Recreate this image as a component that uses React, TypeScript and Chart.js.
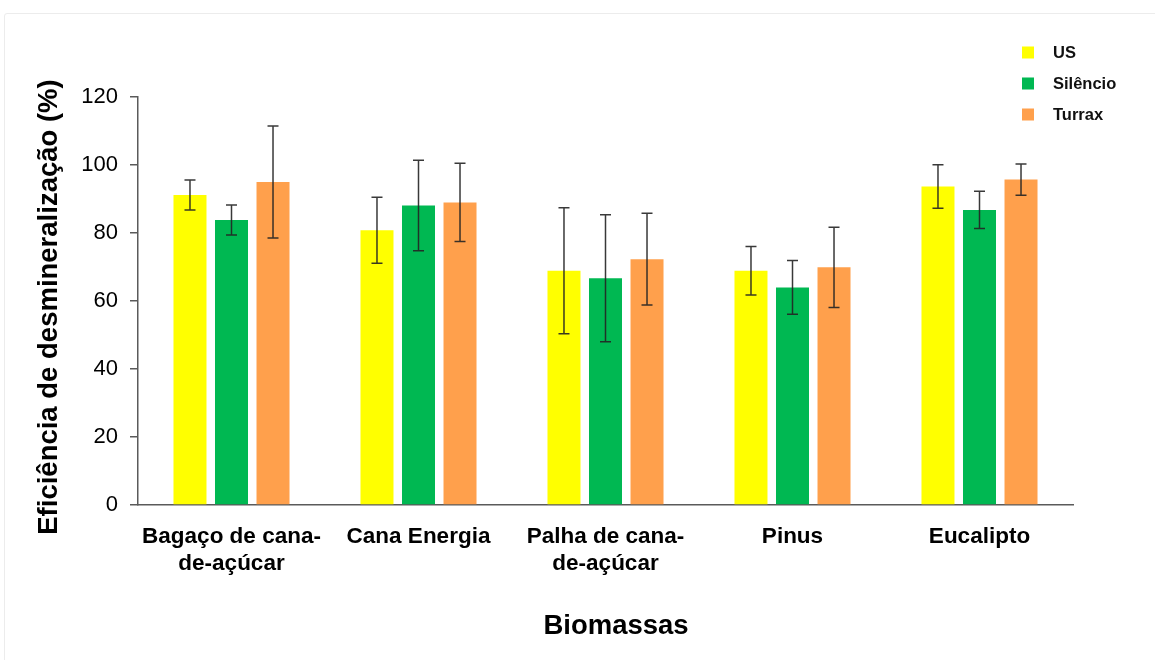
import React, { useEffect, useRef } from "react";
import { Chart, registerables } from "chart.js";

Chart.register(...registerables);

const categories: (string | string[])[] = [
  ["Bagaço de cana-", "de-açúcar"],
  "Cana Energia",
  ["Palha de cana-", "de-açúcar"],
  "Pinus",
  "Eucalipto",
];

const seriesNames = ["US", "Silêncio", "Turrax"];
const seriesColors = ["#FFFF00", "#00B852", "#FFA04C"];

const usValues = [91.2, 80.8, 68.9, 68.9, 93.7];
const usErrors = [4.4, 9.7, 18.5, 7.1, 6.4];
const silencioValues = [83.8, 88.1, 66.7, 64.0, 86.8];
const silencioErrors = [4.4, 13.3, 18.7, 7.9, 5.5];
const turraxValues = [95.0, 89.0, 72.3, 69.9, 95.7];
const turraxErrors = [16.5, 11.5, 13.5, 11.8, 4.6];

const yTicksMin = 0;
const yTicksMax = 120;
const yTicksStep = 20;

const yTitle = "Eficiência de desmineralização (%)";
const xTitle = "Biomassas";

const FONT = "'Liberation Sans', Arial, sans-serif";

const errorBarPlugin = {
  id: "errorBars",
  afterDatasetsDraw(chart: any) {
    const { ctx } = chart;
    const yScale = chart.scales.y;
    ctx.save();
    ctx.strokeStyle = "rgba(35,35,35,0.9)";
    ctx.lineWidth = 1.5;
    chart.data.datasets.forEach((ds: any, di: number) => {
      const meta = chart.getDatasetMeta(di);
      if (meta.hidden) return;
      meta.data.forEach((bar: any, i: number) => {
        const v = ds.data[i];
        const e = ds.errors[i];
        const x = bar.x;
        const yTop = yScale.getPixelForValue(v + e);
        const yBot = yScale.getPixelForValue(v - e);
        const cap = 5.5;
        ctx.beginPath();
        ctx.moveTo(x, yTop);
        ctx.lineTo(x, yBot);
        ctx.moveTo(x - cap, yTop);
        ctx.lineTo(x + cap, yTop);
        ctx.moveTo(x - cap, yBot);
        ctx.lineTo(x + cap, yBot);
        ctx.stroke();
      });
    });
    ctx.restore();
  },
};

const legendPlugin = {
  id: "customLegend",
  afterDraw(chart: any) {
    const { ctx } = chart;
    ctx.save();
    const x0 = 1022;
    const y0 = 52.5;
    const step = 31;
    const size = 12;
    ctx.font = `bold 16.5px ${FONT}`;
    ctx.textBaseline = "middle";
    ctx.textAlign = "left";
    chart.data.datasets.forEach((ds: any, i: number) => {
      const cy = y0 + i * step;
      ctx.fillStyle = ds.backgroundColor;
      ctx.fillRect(x0, cy - size / 2, size, size);
      ctx.fillStyle = "#111";
      ctx.fillText(ds.label, x0 + 31, cy + 1);
    });
    ctx.restore();
  },
};

const axisTitlesPlugin = {
  id: "axisTitles",
  afterDraw(chart: any) {
    const { ctx } = chart;
    ctx.save();
    ctx.fillStyle = "#000";
    ctx.textAlign = "center";
    ctx.textBaseline = "middle";
    ctx.font = `bold 27.5px ${FONT}`;
    ctx.fillText(xTitle, 616, 626);
    ctx.translate(49, 307);
    ctx.rotate(-Math.PI / 2);
    ctx.font = `bold 27.5px ${FONT}`;
    ctx.fillText(yTitle, 0, 0);
    ctx.restore();
  },
};

export default function App() {
  const canvasRef = useRef<HTMLCanvasElement | null>(null);

  useEffect(() => {
    if (!canvasRef.current) return;
    const valueSets = [usValues, silencioValues, turraxValues];
    const errorSets = [usErrors, silencioErrors, turraxErrors];
    const chart = new Chart(canvasRef.current, {
      type: "bar",
      data: {
        labels: categories,
        datasets: seriesNames.map((name, i) => ({
          label: name,
          data: valueSets[i],
          errors: errorSets[i],
          backgroundColor: seriesColors[i],
          borderWidth: 0,
          barPercentage: 0.795,
          categoryPercentage: 0.666,
        })) as any,
      },
      options: {
        animation: false,
        responsive: false,
        maintainAspectRatio: false,
        layout: { padding: { left: 0, top: 97, right: 82, bottom: 0 } },
        plugins: {
          legend: { display: false },
          tooltip: { enabled: false },
          title: { display: false },
        },
        scales: {
          x: {
            grid: { display: false, drawTicks: false },
            border: { display: true, color: "#5a5a5a", width: 1.5 },
            ticks: {
              color: "#000",
              font: { family: FONT, size: 22.5, weight: "bold" },
              padding: 18,
              maxRotation: 0,
              autoSkip: false,
            },
            title: { display: false, text: xTitle },
            afterFit(scale: any) {
              scale.height = 155;
            },
          },
          y: {
            min: yTicksMin,
            max: yTicksMax,
            grid: {
              display: true,
              drawOnChartArea: false,
              drawTicks: true,
              tickLength: 8,
              color: "#5a5a5a",
              lineWidth: 1.5,
            },
            border: { display: true, color: "#5a5a5a", width: 1.5 },
            ticks: {
              stepSize: yTicksStep,
              color: "#000",
              font: { family: FONT, size: 22 },
              padding: 12,
            },
            title: { display: false, text: yTitle },
            afterFit(scale: any) {
              scale.width = 138;
            },
          },
        },
      } as any,
      plugins: [errorBarPlugin, legendPlugin, axisTitlesPlugin],
    });
    return () => chart.destroy();
  }, []);

  return (
    <div
      style={{
        position: "fixed",
        left: 0,
        top: 0,
        width: 1155,
        height: 660,
        overflow: "hidden",
        background: "#fff",
      }}
    >
      <div
        style={{
          position: "absolute",
          left: 4,
          top: 13,
          width: 1200,
          height: 700,
          border: "1px solid #ececec",
          borderRadius: 3,
        }}
      />
      <canvas
        ref={canvasRef}
        width={1155}
        height={660}
        style={{ position: "absolute", left: 0, top: 0, width: 1155, height: 660 }}
      />
    </div>
  );
}
